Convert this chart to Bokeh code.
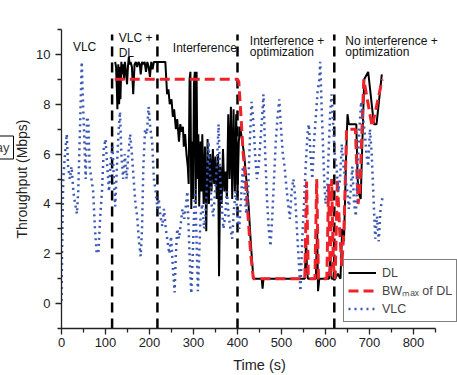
from bokeh.plotting import figure
from bokeh.models import Range1d, FixedTicker, Legend, LegendItem, Label
from bokeh.core.properties import value
from bokeh.embed import file_html
from bokeh.resources import INLINE

# ---------------- data ----------------
x_ticks = [0, 100, 200, 300, 400, 500, 600, 700, 800]
x_minor = [50, 150, 250, 350, 450, 550, 650, 750, 850]
x_axis_end = 850
y_ticks = [0, 2, 4, 6, 8, 10]
y_minor = [-1, 1, 3, 5, 7, 9, 11]

phase_x = [115, 218, 400, 620]
phase_y0 = [-1, -1, -1, -1]
phase_y1 = [10.8, 10.8, 10.8, 10.8]

label_text = ["VLC", "VLC +", "DL", "Interference", "Interference +", "optimization",
              "No interference +", "optimization"]
label_x = [26, 130, 130, 253, 428, 428, 645, 645]
label_y = [10.29, 10.65, 10.05, 10.27, 10.53, 10.1, 10.53, 10.1]

dl_t = [122, 124, 126, 127, 129, 131, 133, 134, 136, 138,
        140, 142, 144, 146, 149, 151, 153, 155, 157, 160,
        163, 166, 169, 172, 175, 178, 180, 183, 186, 189,
        192, 195, 198, 201, 204, 207, 210, 236, 240, 243,
        246, 250, 253, 256, 260, 263, 267, 270, 273, 276,
        278, 281, 284, 287, 289, 291, 293, 295, 297, 299,
        301, 303, 305, 307, 309, 311, 313, 316, 318, 320,
        323, 326, 329, 332, 335, 338, 341, 344, 347, 350,
        353, 356, 358, 361, 364, 367, 370, 373, 376, 379,
        382, 385, 388, 391, 394, 397, 400, 403, 406, 410,
        415, 420, 425, 430, 436, 455, 457, 459, 553, 556,
        558, 560, 578, 581, 583, 586, 608, 611, 614, 622,
        628, 634, 638, 642, 647, 650, 653, 670, 673, 676,
        680, 688, 697, 710, 716, 728]
dl_v = [9.7, 9.5, 8.5, 7.8, 9.6, 8.0, 9.5, 8.2, 9.7, 9.2,
        9.6, 9.0, 9.7, 9.4, 8.8, 9.5, 9.9, 9.6, 9.7, 9.5,
        8.4, 9.6, 9.7, 9.5, 9.7, 9.6, 9.2, 9.7, 9.6, 9.7,
        9.3, 9.7, 9.5, 9.1, 9.7, 9.4, 9.7, 9.7, 8.4, 8.6,
        8.0, 8.2, 7.5, 7.8, 7.0, 7.4, 6.5, 7.2, 6.9, 7.1,
        6.3, 6.8, 6.0, 5.5, 4.8, 9.0, 9.3, 3.8, 6.5, 4.2,
        8.8, 9.3, 4.0, 9.3, 5.0, 6.8, 3.9, 6.5, 4.5, 6.8,
        4.0, 6.3, 2.9, 6.6, 4.0, 6.0, 4.5, 6.2, 4.8, 5.9,
        4.2, 6.0, 1.1, 5.5, 4.0, 6.2, 4.5, 5.3, 4.2, 7.6,
        5.0, 7.9, 4.2, 7.8, 4.5, 7.6, 4.3, 6.5, 7.1, 6.6,
        6.0, 5.0, 4.0, 2.5, 1.0, 1.0, 0.6, 1.0, 1.0, 2.6,
        1.3, 1.0, 1.0, 3.0, 0.5, 1.0, 1.0, 1.8, 1.0, 1.0,
        1.2, 1.0, 3.0, 2.5, 6.0, 7.6, 7.2, 7.2, 5.0, 4.4,
        4.2, 9.0, 9.3, 7.2, 7.2, 9.2]

bw_t = [121, 400, 403, 408, 413, 418, 424, 430, 436, 553,
        557, 561, 576, 580, 584, 603, 607, 611, 614, 618,
        622, 627, 632, 637, 642, 648, 668, 674, 678, 687,
        706, 729]
bw_v = [9.0, 9.0, 8.9, 7.5, 6.0, 5.0, 3.5, 2.0, 1.0, 1.0,
        4.9, 1.0, 1.0, 5.0, 1.0, 1.0, 4.8, 1.0, 5.0, 1.5,
        1.0, 5.0, 3.0, 1.5, 3.0, 7.0, 7.0, 4.0, 4.5, 9.0,
        7.1, 9.0]

vlc_t = [0, 2, 4, 8, 12, 15, 19, 23, 27, 31,
         35, 38, 42, 46, 49, 52, 55, 58, 61, 64,
         68, 72, 76, 80, 84, 88, 92, 96, 100, 104,
         108, 112, 116, 119, 122, 126, 130, 133, 136, 140,
         144, 148, 152, 156, 160, 164, 168, 172, 176, 180,
         183, 186, 190, 194, 198, 202, 206, 210, 214, 218,
         221, 225, 229, 233, 237, 241, 245, 249, 253, 257,
         260, 263, 267, 271, 275, 279, 283, 286, 289, 292,
         295, 298, 301, 304, 307, 310, 313, 316, 320, 324,
         327, 331, 334, 337, 341, 345, 349, 353, 357, 360,
         364, 368, 372, 376, 380, 384, 388, 392, 396, 400,
         404, 408, 412, 416, 420, 424, 428, 432, 436, 440,
         444, 448, 452, 456, 459, 463, 467, 471, 475, 479,
         483, 487, 491, 495, 499, 503, 507, 511, 515, 519,
         523, 527, 531, 535, 539, 543, 547, 551, 555, 559,
         562, 566, 570, 574, 578, 582, 586, 588, 591, 594,
         597, 600, 604, 608, 611, 614, 618, 621, 625, 629,
         633, 637, 641, 645, 649, 653, 657, 661, 665, 669,
         673, 677, 681, 685, 689, 693, 697, 701, 705, 709,
         713, 717, 721, 725, 730]
vlc_v = [0.1, 3.0, 5.0, 6.0, 6.8, 5.5, 5.0, 5.5, 4.5, 4.0,
         3.6, 4.5, 7.0, 9.7, 8.0, 6.5, 5.0, 7.5, 7.3, 5.5,
         5.0, 4.5, 3.0, 2.0, 2.1, 3.5, 4.5, 6.2, 6.6, 5.5,
         4.5, 5.8, 6.3, 5.0, 3.9, 5.5, 7.0, 7.7, 6.0, 5.0,
         6.0, 5.0, 6.0, 6.8, 6.0, 5.0, 4.0, 3.5, 2.5, 1.9,
         3.0, 5.5, 7.0, 6.8, 7.9, 7.0, 6.5, 5.0, 4.5, 3.8,
         4.2, 3.5, 3.1, 3.8, 3.0, 2.5, 2.0, 2.7, 1.5, 0.45,
         2.0, 3.0, 2.6, 3.2, 3.8, 3.4, 4.0, 4.5, 3.0, 1.5,
         0.4, 1.8, 3.5, 4.6, 2.5, 0.5, 2.0, 3.5, 4.0, 3.0,
         3.5, 5.0, 6.5, 5.5, 4.0, 3.5, 4.5, 5.5, 7.2, 5.3,
         4.0, 3.0, 3.5, 4.5, 3.5, 3.0, 2.6, 3.8, 4.5, 3.5,
         3.0, 4.2, 5.5, 4.4, 3.6, 4.5, 6.5, 8.1, 7.3, 6.0,
         5.0, 5.5, 6.5, 7.5, 8.4, 6.0, 4.2, 3.0, 2.3, 3.5,
         5.0, 6.5, 7.5, 8.2, 7.0, 6.0, 5.5, 4.7, 4.0, 3.4,
         4.5, 5.0, 4.3, 3.0, 1.8, 0.5, 2.5, 4.0, 5.5, 6.8,
         7.2, 6.0, 5.0, 6.5, 7.5, 8.5, 9.0, 9.7, 8.0, 6.5,
         5.0, 4.0, 4.6, 6.5, 7.8, 8.4, 7.0, 6.0, 5.5, 4.5,
         5.0, 6.4, 5.5, 5.0, 4.6, 3.8, 4.5, 5.5, 4.0, 3.5,
         5.5, 7.0, 8.1, 7.5, 6.9, 6.0, 5.5, 7.0, 6.0, 4.3,
         2.6, 3.5, 2.5, 3.8, 4.3]

# ---------------- figure ----------------
FONT = "Liberation Sans"
RED = "#ee2228"
BLUE = "#3b58b4"

# frame runs to the right edge of the page so the legend can overhang the axis end
p = figure(width=457, height=375, x_range=Range1d(0, 900), y_range=Range1d(-1, 11),
           output_backend="svg", toolbar_location=None,
           min_border_left=61, min_border_right=0, min_border_top=29, min_border_bottom=46)
p.outline_line_color = None
p.grid.visible = False

for ax in (p.xaxis[0], p.yaxis[0]):
    ax.axis_line_color = "#222222"
    ax.axis_line_width = 1.3
    ax.major_tick_line_color = "#222222"
    ax.minor_tick_line_color = "#222222"
    ax.major_tick_line_width = 1.3
    ax.minor_tick_line_width = 1.3
    ax.major_tick_in = 0
    ax.major_tick_out = 6
    ax.minor_tick_in = 0
    ax.minor_tick_out = 4
    ax.major_label_text_font = FONT
    ax.major_label_text_font_size = "13px"
    ax.major_label_text_color = "#222222"
    ax.axis_label_text_font = FONT
    ax.axis_label_text_font_size = "14.5px"
    ax.axis_label_text_font_style = "normal"
    ax.axis_label_text_color = "#222222"

p.yaxis.axis_label_text_font_size = "14px"
p.xaxis.bounds = (0, x_axis_end)
p.xaxis.ticker = FixedTicker(ticks=x_ticks, minor_ticks=x_minor)
p.yaxis.ticker = FixedTicker(ticks=y_ticks, minor_ticks=y_minor)
p.xaxis.axis_label = "Time (s)"
p.yaxis.axis_label = "Throughput (Mbps)"
p.xaxis.major_label_standoff = 3
p.yaxis.major_label_standoff = 5
p.xaxis.axis_label_standoff = 7
p.yaxis.axis_label_standoff = 3

# phase boundaries
p.segment(x0=phase_x, y0=phase_y0, x1=phase_x, y1=phase_y1,
          line_color="black", line_width=2.5, line_dash="10 6")

r_dl = p.line(dl_t, dl_v, line_color="black", line_width=2)
r_bw = p.line(bw_t, bw_v, line_color=RED, line_width=3, line_dash="10 5")
r_vlc = p.line(vlc_t, vlc_v, line_color=BLUE, line_width=2.5, line_dash="2 4")

p.text(x=label_x, y=label_y, text=label_text, text_font=value(FONT),
       text_font_size="12px", text_color="#111111", text_baseline="alphabetic",
       text_align="left")

legend = Legend(items=[LegendItem(label="DL", renderers=[r_dl]),
                       LegendItem(label="BW\u2098\u2090\u2093 of DL", renderers=[r_bw]),
                       LegendItem(label="VLC", renderers=[r_vlc])],
                location=(282, 6), border_line_color="black", border_line_width=1,
                background_fill_color="white", background_fill_alpha=1,
                label_text_font=FONT, label_text_font_size="12.5px",
                glyph_width=28, glyph_height=17, label_height=17,
                spacing=1, padding=4, margin=0, label_standoff=6)
p.add_layout(legend)

# fragment of a neighbouring legend box, cut by the left page edge
p.add_layout(Label(x=-48, y=-118, x_units="screen", y_units="screen",
                   text="ay", text_align="right", text_baseline="middle",
                   text_font=FONT, text_font_size="13px",
                   border_line_color="black", background_fill_color="white", padding=4),
             "above")

open("out.html", "w").write(file_html(p, INLINE))
